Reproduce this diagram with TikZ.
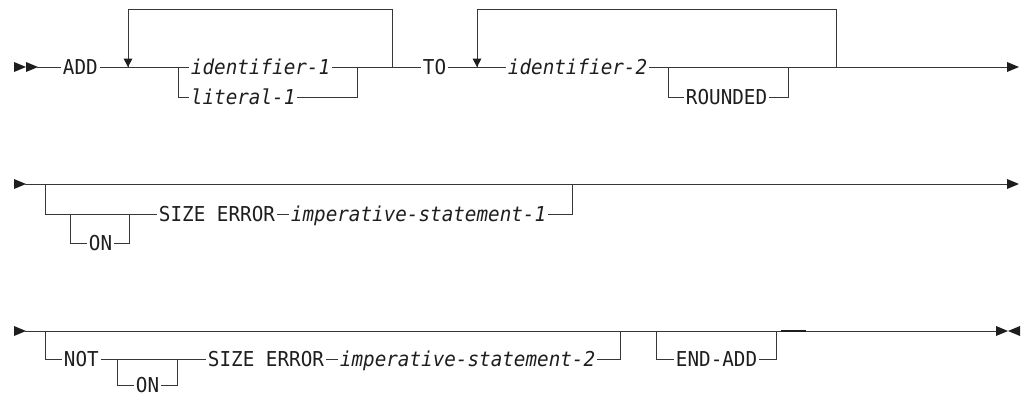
\documentclass[tikz,border=0pt]{standalone}
\usepackage{fontspec}
\newfontfamily\sdmono{DejaVu Sans Mono}[ItalicFont=* Oblique, FakeStretch=0.94]
\newcommand\sdkwfont{\sdmono\fontsize{20.5}{21}\selectfont}
\newcommand\sdvarfont{\sdmono\itshape\fontsize{20.5}{21}\selectfont}
\definecolor{ink}{RGB}{30,30,30}
\definecolor{wire}{RGB}{55,55,55}
\tikzset{
  kw/.style={font=\sdkwfont, inner sep=0pt, inner xsep=1.5pt, text height=15pt, text depth=0pt, anchor=west, text=ink},
  var/.style={kw, font=\sdvarfont},
  rtri/.pic={\fill[ink] (0,-5) -- (12,0) -- (0,5) -- cycle;},
  ltri/.pic={\fill[ink] (12,-5) -- (0,0) -- (12,5) -- cycle;},
  dtri/.pic={\fill[ink] (-4.5,-8.5) -- (4.5,-8.5) -- (0,0) -- cycle;}
}
\begin{document}
\begin{tikzpicture}[x=1pt,y=-1pt,line width=0.9pt,draw=wire]
\useasboundingbox (0,0) rectangle (1024,396);
% ---------------- Row 1 ----------------
\pic at (14,67) {rtri};
\pic at (26,67) {rtri};
\coordinate (st1) at (37,67);
\node[kw] (add) at (61,67) {ADD};
\coordinate (l1a) at (128,67);
\coordinate (t1) at (128,9);
\coordinate (b1a) at (178,67);
\node[var] (id1) at (189,67) {identifier-1};
\node[var] (lit1) at (189,97) {literal-1};
\coordinate (b1b) at (357,67);
\coordinate (l1b) at (392,67);
\node[kw] (to) at (421,67) {TO};
\coordinate (l2a) at (477,67);
\coordinate (t2) at (477,9);
\node[var] (id2) at (506,67) {identifier-2};
\coordinate (b2a) at (668,67);
\node[kw] (rnd) at (684,97) {ROUNDED};
\coordinate (b2b) at (788,67);
\coordinate (l2b) at (836,67);
\coordinate (e1) at (1007,67);
\draw (st1) -- (add.west);
\draw (add.east) -- (id1.west);
\draw (id1.east) -- (to.west);
\draw (b1a) |- (lit1.west);
\draw (lit1.east) -| (b1b);
\draw (l1b) |- (t1) -- (l1a);
\pic at (l1a) {dtri};
\draw (to.east) -- (id2.west);
\draw (id2.east) -- (e1);
\draw (b2a) |- (rnd.west);
\draw (rnd.east) -| (b2b);
\draw (l2b) |- (t2) -- (l2a);
\pic at (l2a) {dtri};
\pic at (e1) {rtri};
% ---------------- Row 2 ----------------
\pic at (14,184) {rtri};
\coordinate (st2) at (25,184);
\coordinate (e2) at (1007,184);
\coordinate (b3a) at (45,184);
\coordinate (b3on) at (70,214);
\node[kw] (on1) at (87,243) {ON};
\coordinate (b3onb) at (129,214);
\node[kw] (se1) at (157,214) {SIZE ERROR};
\node[var] (is1) at (289,214) {imperative-statement-1};
\coordinate (b3b) at (572,184);
\draw (st2) -- (e2);
\pic at (e2) {rtri};
\draw (b3a) |- (se1.west);
\draw (b3on) |- (on1.west);
\draw (on1.east) -| (b3onb);
\draw (se1.east) -- (is1.west);
\draw (is1.east) -| (b3b);
% ---------------- Row 3 ----------------
\pic at (14,331) {rtri};
\coordinate (st3) at (25,331);
\coordinate (e3) at (996,331);
\coordinate (e3b) at (1008,331);
\coordinate (b4a) at (45,331);
\node[kw] (not) at (62,359) {NOT};
\coordinate (b4on) at (117,359);
\node[kw] (on2) at (134,385) {ON};
\coordinate (b4onb) at (177,359);
\node[kw] (se2) at (206,359) {SIZE ERROR};
\node[var] (is2) at (338,359) {imperative-statement-2};
\coordinate (b4b) at (620,331);
\coordinate (b5a) at (656,331);
\node[kw] (endadd) at (674,359) {END-ADD};
\coordinate (b5b) at (776,331);
\coordinate (k1) at (781,331);
\coordinate (k2) at (806,331);
\draw (st3) -- (e3);
\pic at (e3) {rtri};
\pic at (e3b) {ltri};
\draw (b4a) |- (not.west);
\draw (not.east) -- (se2.west);
\draw (b4on) |- (on2.west);
\draw (on2.east) -| (b4onb);
\draw (se2.east) -- (is2.west);
\draw (is2.east) -| (b4b);
\draw (b5a) |- (endadd.west);
\draw (endadd.east) -| (b5b);
\draw[line width=2pt, draw=ink] (k1) -- (k2);
\end{tikzpicture}
\end{document}
